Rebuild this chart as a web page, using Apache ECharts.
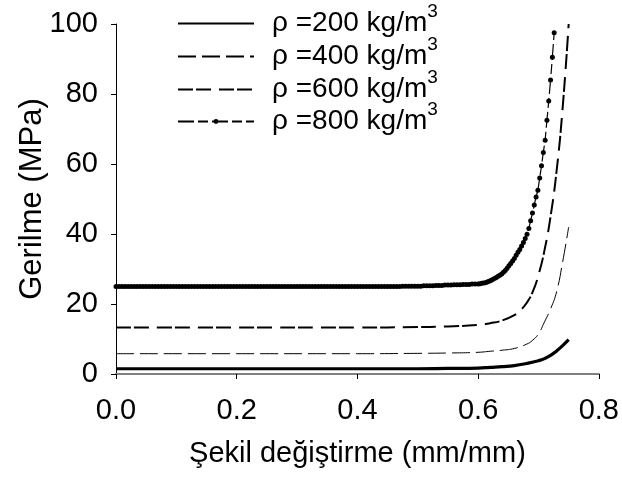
<!DOCTYPE html>
<html>
<head>
<meta charset="utf-8">
<script src="https://cdn.jsdelivr.net/npm/echarts@6/dist/echarts.min.js"></script>
<style>html,body{margin:0;padding:0;background:#fff}#c{width:622px;height:480px}</style>
</head>
<body>
<div id="c"></div>
<script>
const names = ['ρ =200 kg/m3', 'ρ =400 kg/m3', 'ρ =600 kg/m3', 'ρ =800 kg/m3'];
const xTicks = [0, 0.2, 0.4, 0.6, 0.8];
const yTicks = [0, 20, 40, 60, 80, 100];

const strain200 = [0, 0.1, 0.2, 0.3, 0.4, 0.5, 0.55, 0.6, 0.62, 0.64, 0.66, 0.68, 0.70, 0.71, 0.72, 0.73, 0.74, 0.75];
const stress200 = [1.5, 1.5, 1.5, 1.5, 1.5, 1.5, 1.6, 1.7, 1.9, 2.1, 2.4, 3.0, 3.8, 4.4, 5.3, 6.6, 8.1, 9.8];

const strain400 = [0, 0.2, 0.4, 0.5, 0.55, 0.6, 0.62, 0.64, 0.66, 0.68, 0.69, 0.70, 0.71, 0.72, 0.73, 0.74, 0.75];
const stress400 = [5.8, 5.8, 5.8, 5.9, 6.0, 6.2, 6.5, 6.8, 7.3, 8.5, 9.6, 11.5, 14.9, 18.6, 23.5, 32.0, 42.0];

const strain600 = [0, 0.2, 0.4, 0.5, 0.55, 0.6, 0.62, 0.64, 0.66, 0.67, 0.68, 0.69, 0.70, 0.71, 0.72, 0.73, 0.74, 0.75];
const stress600 = [13.3, 13.3, 13.3, 13.4, 13.6, 14.0, 14.5, 15.3, 16.8, 18.2, 20.2, 23.3, 28.3, 35.4, 45.0, 58.0, 76.0, 100];

const strain800 = [
  0, 0.005, 0.01, 0.015, 0.02, 0.025, 0.03, 0.035, 0.04, 0.045,
  0.05, 0.055, 0.06, 0.065, 0.07, 0.075, 0.08, 0.085, 0.09, 0.095,
  0.1, 0.105, 0.11, 0.115, 0.12, 0.125, 0.13, 0.135, 0.14, 0.145,
  0.15, 0.155, 0.16, 0.165, 0.17, 0.175, 0.18, 0.185, 0.19, 0.195,
  0.2, 0.205, 0.21, 0.215, 0.22, 0.225, 0.23, 0.235, 0.24, 0.245,
  0.25, 0.255, 0.26, 0.265, 0.27, 0.275, 0.28, 0.285, 0.29, 0.295,
  0.3, 0.305, 0.31, 0.315, 0.32, 0.325, 0.33, 0.335, 0.34, 0.345,
  0.35, 0.355, 0.36, 0.365, 0.37, 0.375, 0.38, 0.385, 0.39, 0.395,
  0.4, 0.405, 0.41, 0.415, 0.42, 0.425, 0.43, 0.435, 0.44, 0.445,
  0.45, 0.455, 0.46, 0.465, 0.47, 0.475, 0.48, 0.485, 0.49, 0.495,
  0.5, 0.505, 0.51, 0.515, 0.52, 0.525, 0.53, 0.535, 0.54, 0.545,
  0.55, 0.555, 0.56, 0.565, 0.57, 0.575, 0.58, 0.585, 0.59, 0.595,
  0.600, 0.603, 0.606, 0.609, 0.612, 0.615, 0.618, 0.621, 0.624, 0.627,
  0.630, 0.633, 0.636, 0.639, 0.642, 0.645, 0.648, 0.651, 0.654, 0.657,
  0.660, 0.663, 0.666, 0.669, 0.672, 0.675, 0.678, 0.681, 0.684, 0.687,
  0.690, 0.693, 0.696, 0.699, 0.702, 0.705, 0.708, 0.711, 0.714, 0.717,
  0.720, 0.723, 0.726
];
const stress800 = [
  25.0, 25.0, 25.0, 25.0, 25.0, 25.0, 25.0, 25.0, 25.0, 25.0,
  25.0, 25.0, 25.0, 25.0, 25.0, 25.0, 25.0, 25.0, 25.0, 25.0,
  25.0, 25.0, 25.0, 25.0, 25.0, 25.0, 25.0, 25.0, 25.0, 25.0,
  25.0, 25.0, 25.0, 25.0, 25.0, 25.0, 25.0, 25.0, 25.0, 25.0,
  25.0, 25.0, 25.0, 25.0, 25.0, 25.0, 25.0, 25.0, 25.0, 25.0,
  25.0, 25.0, 25.0, 25.0, 25.0, 25.0, 25.0, 25.0, 25.0, 25.0,
  25.0, 25.0, 25.0, 25.0, 25.0, 25.0, 25.0, 25.0, 25.0, 25.0,
  25.0, 25.0, 25.0, 25.0, 25.0, 25.0, 25.0, 25.0, 25.0, 25.0,
  25.0, 25.0, 25.0, 25.0, 25.0, 25.0, 25.0, 25.0, 25.0, 25.0,
  25.0, 25.0, 25.0, 25.0, 25.0, 25.1, 25.1, 25.1, 25.1, 25.1,
  25.1, 25.1, 25.2, 25.2, 25.2, 25.2, 25.3, 25.3, 25.3, 25.4,
  25.4, 25.4, 25.5, 25.5, 25.5, 25.6, 25.6, 25.6, 25.7, 25.7,
  25.7, 25.8, 25.9, 26.0, 26.1, 26.3, 26.5, 26.7, 27.0, 27.3,
  27.6, 27.9, 28.2, 28.6, 29.1, 29.6, 30.2, 30.9, 31.6, 32.3,
  33.0, 33.9, 34.8, 35.6, 36.6, 37.6, 38.7, 39.9, 41.6, 43.8,
  46.0, 48.3, 50.6, 52.5, 56.0, 59.5, 63.3, 66.8, 72.5, 78.0,
  84.0, 90.5, 97.5
];

function pairs(xs, ys) { return xs.map((x, i) => [x, ys[i]]); }

const FONT = 'Liberation Sans';
const legendTops = [2, 35, 68, 100];

function legendFor(i) {
  return {
    orient: 'vertical',
    left: 177,
    top: legendTops[i],
    padding: 0,
    itemWidth: 76,
    itemHeight: 6,
    formatter: n => '{m|' + n.slice(0, -1) + '}{s|' + n.slice(-1) + '}',
    textStyle: {
      fontFamily: FONT, fontSize: 28, color: '#000', lineHeight: 28, padding: [0, 0, 0, 13],
      rich: {
        m: { fontFamily: FONT, fontSize: 28, color: '#000', lineHeight: 28, verticalAlign: 'middle' },
        s: { fontFamily: FONT, fontSize: 19, color: '#000', lineHeight: 4, height: 4, verticalAlign: 'top' }
      }
    },
    data: [i === 3 ? { name: names[i] } : { name: names[i], itemStyle: { opacity: 0 } }]
  };
}

const chart = echarts.init(document.getElementById('c'));
chart.setOption({
  animation: false,
  backgroundColor: '#fff',
  grid: { left: 116, right: 21, top: 24, bottom: 106 },
  legend: [legendFor(0), legendFor(1), legendFor(2), legendFor(3)],
  xAxis: {
    type: 'value', min: xTicks[0], max: xTicks[xTicks.length - 1], interval: 0.2,
    name: 'Şekil değiştirme (mm/mm)', nameLocation: 'middle', nameGap: 65,
    nameTextStyle: { fontFamily: FONT, fontSize: 29, color: '#000' },
    axisLine: { lineStyle: { color: '#808080', width: 2 } },
    axisTick: { show: true, length: 5, lineStyle: { color: '#000', width: 1 } },
    axisLabel: { fontFamily: FONT, fontSize: 29, color: '#000', margin: 22, formatter: v => v.toFixed(1) },
    splitLine: { show: false }
  },
  yAxis: {
    type: 'value', min: yTicks[0], max: yTicks[yTicks.length - 1], interval: 20,
    name: 'Gerilme (MPa)', nameLocation: 'middle', nameGap: 68, nameMoveOverlap: false,
    nameTextStyle: { fontFamily: FONT, fontSize: 31, color: '#000' },
    axisLine: { show: true, lineStyle: { color: '#000', width: 1 } },
    axisTick: { show: true, length: 5, lineStyle: { color: '#000', width: 1 } },
    axisLabel: { fontFamily: FONT, fontSize: 29, color: '#000', margin: 18 },
    splitLine: { show: false }
  },
  series: [
    {
      name: names[0], type: 'line', data: pairs(strain200, stress200), smooth: true,
      symbol: 'none', lineStyle: { color: '#000', width: 3.2 }, itemStyle: { color: '#000' }
    },
    {
      name: names[1], type: 'line', data: pairs(strain400, stress400), smooth: true,
      symbol: 'none', lineStyle: { color: '#000', width: 1, type: [18, 6] }, itemStyle: { color: '#000' }
    },
    {
      name: names[2], type: 'line', data: pairs(strain600, stress600), smooth: true,
      symbol: 'none', lineStyle: { color: '#000', width: 2, type: [15, 3, 15, 8] }, itemStyle: { color: '#000' }
    },
    {
      name: names[3], type: 'line', data: pairs(strain800, stress800),
      symbol: 'circle', symbolSize: 5, showAllSymbol: true,
      lineStyle: { color: '#000', width: 1.2, type: [16, 4, 10, 4] }, itemStyle: { color: '#000' }
    }
  ]
});
</script>
</body>
</html>
